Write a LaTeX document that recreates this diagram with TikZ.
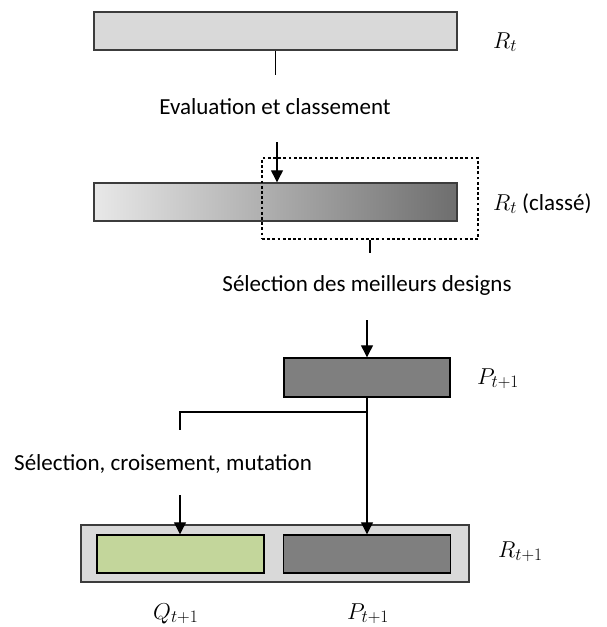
\RequirePackage{fix-cm}
\documentclass[tikz,border=0pt]{standalone}
\usepackage[no-math]{fontspec}
\setmainfont{Carlito}
\usepackage{tikz}
\usetikzlibrary{arrows.meta}
\DeclareMathSizes{23}{23}{17.5}{13}
\definecolor{barfill}{RGB}{217,217,217}
\definecolor{darkfill}{RGB}{127,127,127}
\definecolor{greenfill}{RGB}{195,214,155}
\definecolor{edgegray}{RGB}{60,60,60}
\definecolor{lightshade}{RGB}{232,232,232}
\definecolor{darkshade}{RGB}{110,110,110}

\begin{document}
\begin{tikzpicture}[x=1pt,y=-1pt,
    bar/.style={draw=edgegray,line width=1.4pt,minimum height=38pt,inner sep=0pt},
    lab/.style={font=\fontsize{23}{28}\selectfont,inner sep=0pt},
    link/.style={line width=1.2pt},
    arr/.style={link,-{Triangle[width=12pt,length=12pt]}}]
      \useasboundingbox (0,0) rectangle (607,627);
      \node [bar,fill=barfill,minimum width=363pt] (Rt) at (275.5,31) {};
      \node [lab,anchor=base west] (RtL) at (493,48) {$R_t$};
      \coordinate (t1) at (275.5,75);
      \draw [link] (Rt.south) -- (t1);
      \node [lab,anchor=base] (eval) at (275,114) {Evaluation et classement};
      \node [bar,minimum width=363pt,left color=lightshade,right color=darkshade] (Rs) at (275.5,202) {};
      \node [draw,line width=2.8pt,dash pattern=on 2.8pt off 2.4pt,minimum width=216pt,minimum height=81pt,inner sep=0pt] (best) at (370,198.5) {};
      \coordinate (e1) at (277,142);
      \draw [arr] (e1) -- (e1 |- Rs.north);
      \node [lab,anchor=base west] (RsL) at (493,210) {$R_t$ (classé)};
      \coordinate (t2) at (370,253);
      \draw [link] (best.south) -- (t2);
      \node [lab,anchor=base] (selb) at (367,291) {Sélection des meilleurs designs};
      \node [bar,fill=darkfill,draw=black,minimum width=166pt,minimum height=39pt] (P) at (367,377.5) {};
      \node [lab,anchor=base west] (PL) at (477,384) {$P_{t+1}$};
      \coordinate (e2) at (367,320);
      \draw [arr] (e2) -- (P.north);
      \node [bar,fill=barfill,minimum width=388pt,minimum height=57pt] (R1) at (275,553.5) {};
      \node [bar,fill=greenfill,draw=black,minimum width=167pt] (Q) at (180.5,554) {};
      \node [bar,fill=darkfill,draw=black,minimum width=167pt] (Pn) at (367,554) {};
      \node [lab,anchor=base west] (R1L) at (498,557) {$R_{t+1}$};
      \node [lab,anchor=base west] (QL) at (153,619) {$Q_{t+1}$};
      \node [lab,anchor=base west] (PnL) at (347,619) {$P_{t+1}$};
      \draw [arr] (P.south) -- (Pn.north);
      \coordinate (fork) at (367,412);
      \coordinate (br) at (180,430);
      \draw [link] (fork) -| (br);
      \node [lab,anchor=base west] (selc) at (14,470) {Sélection, croisement, mutation};
      \coordinate (e3) at (180,495);
      \draw [arr] (e3) -- (e3 |- Q.north);
\end{tikzpicture}
\end{document}
